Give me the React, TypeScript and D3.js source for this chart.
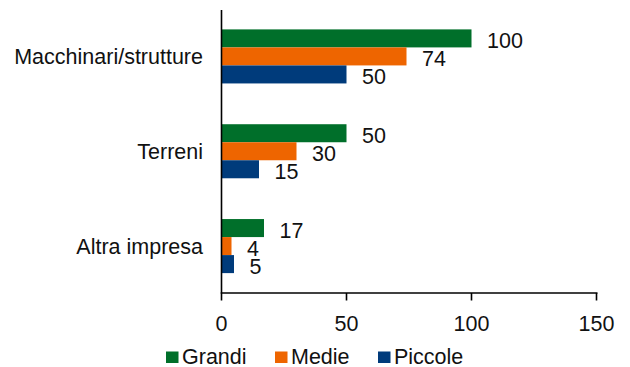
import React from "react";
import * as d3 from "d3";

const categories = ["Macchinari/strutture", "Terreni", "Altra impresa"];
const seriesNames = ["Grandi", "Medie", "Piccole"];
const grandi = [100, 50, 17];
const medie = [74, 30, 4];
const piccole = [50, 15, 5];
const xTicks = [0, 50, 100, 150];
const colors = ["#006F2A", "#EE6500", "#003B7B"];

const W = 630;
const H = 367;
const FONT = "'Liberation Sans', Arial, sans-serif";
const FS = 21.5;

export default function App() {
  const values = [grandi, medie, piccole];
  const x = d3.scaleLinear().domain([0, 150]).range([221.5, 596.5]);
  const y = d3
    .scaleBand<string>()
    .domain(categories)
    .range([9, 293.5])
    .paddingInner(0.43)
    .paddingOuter(0.215);
  const inner = d3
    .scaleBand<string>()
    .domain(seriesNames)
    .range([0, y.bandwidth()])
    .padding(0);
  const axisY = 293;
  const legendX = [166, 275, 378];

  return (
    <svg
      width={W}
      height={H}
      style={{ position: "absolute", left: 0, top: 0, background: "#fff" }}
      fontFamily={FONT}
    >
      {categories.map((c, ci) => (
        <g key={c}>
          {seriesNames.map((s, si) => {
            const v = values[si][ci];
            const by = (y(c) as number) + (inner(s) as number);
            return (
              <g key={s}>
                <rect
                  x={x(0)}
                  y={by}
                  width={x(v) - x(0)}
                  height={inner.bandwidth()}
                  fill={colors[si]}
                />
                <text
                  x={x(v) + 15.5}
                  y={by + inner.bandwidth() / 2 + 9.5}
                  fontSize={FS}
                  fill="#111"
                >
                  {v}
                </text>
              </g>
            );
          })}
          <text
            x={203}
            y={(y(c) as number) + y.bandwidth() / 2 + 8}
            fontSize={FS}
            textAnchor="end"
            fill="#111"
          >
            {c}
          </text>
        </g>
      ))}
      <line x1={221.5} x2={221.5} y1={10} y2={axisY} stroke="#000" strokeWidth={1.6} />
      <line x1={220.7} x2={597.5} y1={axisY} y2={axisY} stroke="#000" strokeWidth={1.6} />
      {xTicks.map((t) => (
        <g key={t}>
          <line x1={x(t)} x2={x(t)} y1={axisY} y2={300.5} stroke="#000" strokeWidth={1.6} />
          <text x={x(t)} y={330.5} fontSize={FS} textAnchor="middle" fill="#111">
            {t}
          </text>
        </g>
      ))}
      {seriesNames.map((s, si) => (
        <g key={s}>
          <rect x={legendX[si]} y={351.5} width={12.5} height={11.5} fill={colors[si]} />
          <text x={legendX[si] + 16} y={364} fontSize={FS} fill="#111">
            {s}
          </text>
        </g>
      ))}
    </svg>
  );
}
